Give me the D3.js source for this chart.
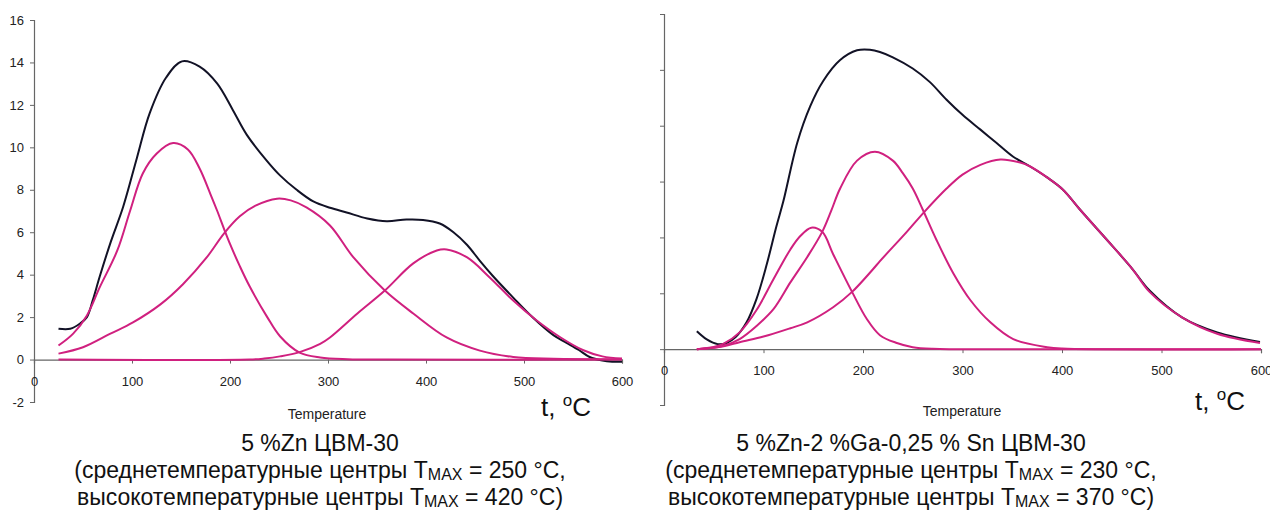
<!DOCTYPE html>
<html>
<head>
<meta charset="utf-8">
<script src="https://cdn.jsdelivr.net/npm/d3@7"></script>
<style>
  body { margin: 0; background: #fff; }
  svg { display: block; font-family: "Liberation Sans", Arial, sans-serif; }
</style>
</head>
<body>
<div id="chart"></div>
<script>
"use strict";

// left panel: 5 %Zn, [temperature, signal]
var leftTotal = [[25,1.45],[37,1.45],[47,1.7],[54,2.0],[60,2.8],[67,3.9],[78,5.5],[91,7.2],[105,9.5],[118,11.6],[135,13.3],[151,14.05],[169,13.8],[187,13.0],[203,11.75],[217,10.6],[237,9.4],[251,8.68],[268,8.0],[285,7.45],[302,7.15],[319,6.93],[340,6.65],[360,6.52],[380,6.6],[397,6.58],[414,6.41],[428,6.0],[442,5.4],[455,4.65],[468,3.95],[489,2.92],[509,1.98],[530,1.15],[543,0.8],[556,0.45],[567,0.12],[580,-0.05],[590,-0.1],[600,-0.1]];
var leftPeak1 = [[25,0.66],[40,1.22],[54,2.08],[67,3.4],[85,5.14],[98,7.0],[111,8.77],[125,9.7],[142,10.2],[157,9.9],[169,9.0],[180,7.8],[187,7.0],[194,6.15],[200,5.45],[210,4.4],[220,3.45],[238,2.0],[251,1.1],[271,0.33],[292,0.1],[320,0.02],[360,0],[600,0]];
var leftPeak2 = [[25,0.28],[50,0.58],[78,1.22],[101,1.75],[129,2.6],[152,3.55],[176,4.8],[194,5.95],[210,6.75],[226,7.25],[248,7.58],[262,7.5],[278,7.17],[302,6.32],[326,4.81],[358,3.25],[387,2.17],[421,1.04],[455,0.42],[489,0.12],[530,0.04],[600,0.02]];
var leftPeak3 = [[25,0],[220,0],[235,0.05],[251,0.15],[271,0.35],[292,0.74],[302,1.04],[330,2.17],[358,3.25],[387,4.53],[411,5.14],[421,5.19],[442,4.81],[465,3.87],[489,2.78],[513,1.84],[537,1.05],[560,0.45],[580,0.15],[600,0.05]];

// right panel: 5 %Zn-2 %Ga-0,25 % Sn
var rightTotal = [[33,0.64],[43,0.35],[54,0.18],[63,0.22],[72,0.43],[83,0.96],[93,1.8],[103,3.0],[113,4.4],[120,5.3],[134,7.4],[147,8.7],[160,9.6],[177,10.35],[194,10.7],[207,10.72],[217,10.64],[230,10.45],[250,10.05],[267,9.57],[284,8.93],[300,8.39],[318,7.86],[334,7.39],[351,6.89],[368,6.54],[385,6.15],[401,5.71],[418,5.0],[451,3.68],[471,2.86],[488,2.1],[521,1.13],[556,0.6],[599,0.26]];
var rightPeak1 = [[33,0],[50,0.08],[60,0.2],[76,0.6],[93,1.4],[110,2.5],[127,3.57],[137,4.05],[148,4.35],[159,4.2],[170,3.4],[189,2.05],[204,1.07],[217,0.5],[234,0.22],[250,0.07],[270,0.01],[300,0],[600,0]];
var rightPeak2 = [[33,0],[50,0.05],[60,0.12],[76,0.36],[93,0.83],[110,1.43],[127,2.39],[144,3.3],[159,4.2],[168,4.95],[177,5.75],[194,6.75],[212,7.07],[230,6.75],[240,6.3],[250,5.75],[260,5.0],[274,3.9],[291,2.7],[308,1.75],[328,0.96],[351,0.36],[385,0.07],[400,0.02],[600,0]];
var rightPeak3 = [[33,0],[60,0.1],[76,0.25],[100,0.45],[127,0.75],[144,0.96],[170,1.5],[189,2.05],[210,2.86],[217,3.15],[244,4.2],[261,4.89],[284,5.75],[300,6.25],[318,6.6],[338,6.79],[358,6.68],[368,6.54],[385,6.15],[401,5.71],[418,5.0],[451,3.68],[471,2.86],[488,2.05],[521,1.13],[556,0.55],[599,0.22]];

var xTicks = [0, 100, 200, 300, 400, 500, 600];
var yTicks = [-2, 0, 2, 4, 6, 8, 10, 12, 14, 16];
var yTicksRight = [-2, 0, 2, 4, 6, 8, 10, 12];

var leftCaption = ["5 %Zn ЦВМ-30", "(среднетемпературные центры T|MAX| = 250 °C,", "высокотемпературные центры T|MAX| = 420 °C)"];
var rightCaption = ["5 %Zn-2 %Ga-0,25 % Sn ЦВМ-30", "(среднетемпературные центры T|MAX| = 230 °C,", "высокотемпературные центры T|MAX| = 370 °C)"];

var w = 1270;
var h = 524;
var black = "#121226";
var pink = "#d0207f";

var svg = d3.select("#chart")
    .append("svg")
    .attr("width", w)
    .attr("height", h);

svg.append("rect").attr("width", w).attr("height", h).attr("fill", "#fff");

function panel(opt) {
    var x = d3.scaleLinear().domain([0, 600]).range(opt.xRange);
    var y = d3.scaleLinear().domain(opt.yDomain).range(opt.yRange);
    var g = svg.append("g");

    // y axis, plain hyphen for negatives like the source
    var yAxis = d3.axisLeft(y)
        .tickValues(opt.yTicks)
        .tickSize(4)
        .tickPadding(6)
        .tickFormat(opt.showY ? function(d) { return String(d); } : "");
    g.append("g")
        .attr("transform", "translate(" + opt.xRange[0] + ",0)")
        .call(yAxis)
        .call(styleAxis);

    // x axis sits on zero
    var xAxis = d3.axisBottom(x)
        .tickValues(xTicks)
        .tickSize(4)
        .tickPadding(13)
        .tickFormat(function(d) { return String(d); });
    g.append("g")
        .attr("transform", "translate(0," + y(0) + ")")
        .call(xAxis)
        .call(styleAxis);

    var line = d3.line()
        .x(function(d) { return x(d[0]); })
        .y(function(d) { return y(d[1]); })
        .curve(d3.curveCatmullRom.alpha(0.5));

    g.append("path")
        .datum(opt.total)
        .attr("d", line)
        .attr("fill", "none")
        .attr("stroke", black)
        .attr("stroke-width", 2);

    opt.peaks.forEach(function(p) {
        g.append("path")
            .datum(p)
            .attr("d", line)
            .attr("fill", "none")
            .attr("stroke", pink)
            .attr("stroke-width", 2);
    });

    // axis titles
    g.append("text")
        .attr("x", opt.tempX)
        .attr("y", opt.tempY)
        .attr("text-anchor", "middle")
        .style("font-size", "14px")
        .attr("fill", "#222")
        .text("Temperature");

    var unit = g.append("text")
        .attr("x", opt.unitX)
        .attr("y", opt.unitY)
        .style("font-size", "26px")
        .attr("fill", "#111");
    unit.append("tspan").text("t, ");
    unit.append("tspan").attr("dy", -10).style("font-size", "17px").text("o");
    unit.append("tspan").attr("dy", 10).text("C");

    // caption under the panel
    opt.caption.forEach(function(s, i) {
        var t = g.append("text")
            .attr("x", opt.capX)
            .attr("y", 451 + i * 27)
            .attr("text-anchor", "middle")
            .style("font-size", "23px")
            .attr("fill", "#111");
        var parts = s.split("|");
        t.append("tspan").text(parts[0]);
        if (parts.length > 1) {
            t.append("tspan").attr("dy", 2).style("font-size", "16px").text(parts[1]);
            t.append("tspan").attr("dy", -2).text(parts[2]);
        }
    });
}

function styleAxis(sel) {
    sel.select(".domain").attr("stroke", "#666").attr("stroke-width", 1.2);
    sel.selectAll(".tick line").attr("stroke", "#666");
    sel.selectAll(".tick text")
        .attr("fill", "#222")
        .style("font-size", "13px")
        .style("font-family", "'Liberation Sans', Arial, sans-serif");
}

panel({
    xRange: [34, 622], yDomain: [-2, 16], yRange: [402, 20],
    yTicks: yTicks, showY: true,
    total: leftTotal, peaks: [leftPeak1, leftPeak2, leftPeak3],
    tempX: 327, tempY: 419, unitX: 541, unitY: 416,
    caption: leftCaption, capX: 320
});

panel({
    xRange: [664, 1261], yDomain: [-2, 12], yRange: [405, 14],
    yTicks: yTicksRight, showY: false,
    total: rightTotal, peaks: [rightPeak1, rightPeak2, rightPeak3],
    tempX: 962, tempY: 416, unitX: 1195, unitY: 410,
    caption: rightCaption, capX: 911
});
</script>
</body>
</html>
